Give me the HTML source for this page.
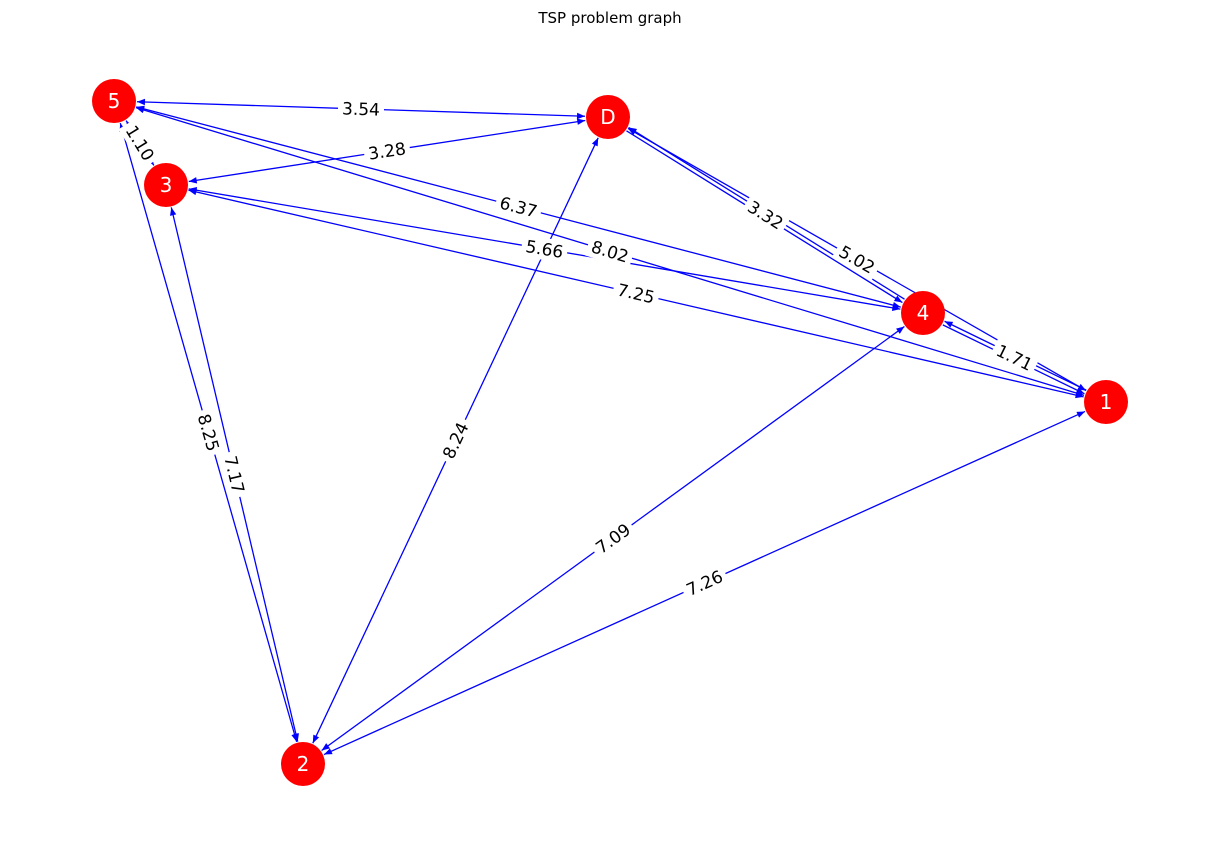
<!DOCTYPE html>
<html><head><meta charset="utf-8"><style>
html,body{margin:0;padding:0;background:#fff;}
svg{display:block;font-family:"DejaVu Sans","Liberation Sans",sans-serif;}
</style></head><body>
<svg id="g" width="1220" height="842" xmlns="http://www.w3.org/2000/svg">
<defs>
<marker id="ah" viewBox="0 0 10 10" refX="10" refY="5" markerWidth="10" markerHeight="8" markerUnits="userSpaceOnUse" orient="auto-start-reverse">
<path d="M0,1 L10,5 L0,9 z" fill="#0000ff"/></marker>
</defs>
<text x="610" y="23" font-size="15" text-anchor="middle" fill="#000">TSP problem graph</text>
<g id="edges"></g><g id="labels"></g><g id="nodes"></g>
</svg>
<script>
var N={"5":[114,101],"D":[608,117],"3":[166,185],"4":[923,313],"1":[1106,402],"2":[303,764]};
var E=[["5","D","3.54",0],["D","3","3.28",0],["5","3","1.10",0],["5","1","8.02",0],["4","5","6.37",0],["3","4","5.66",0],["1","3","7.25",0],["D","4","3.32",1],["D","1","5.02",0],["4","1","1.71",1],["5","2","8.25",0],["3","2","7.17",0],["2","D","8.24",0],["2","4","7.09",0],["2","1","7.26",0]];
var ns="http://www.w3.org/2000/svg",R=23;
var ge=document.getElementById("edges"),gl=document.getElementById("labels"),gn=document.getElementById("nodes");
function el(t,a,p){var e=document.createElementNS(ns,t);for(var k in a)e.setAttribute(k,a[k]);p.appendChild(e);return e;}
E.forEach(function(e){var a=N[e[0]],b=N[e[1]];var dx=b[0]-a[0],dy=b[1]-a[1],L=Math.hypot(dx,dy),ux=dx/L,uy=dy/L;
if(e[3]){var off=2;var px=-uy*off,py=ux*off;
[[a,b,1],[b,a,-1]].forEach(function(s){var p=s[0],q=s[1],sg=s[2];
el("line",{x1:p[0]+ux*sg*R+px*sg,y1:p[1]+uy*sg*R+py*sg,x2:q[0]-ux*sg*R+px*sg,y2:q[1]-uy*sg*R+py*sg,stroke:"#0000ff","stroke-width":1.3,"marker-end":"url(#ah)"},ge);});}
else{el("line",{x1:a[0]+ux*R,y1:a[1]+uy*R,x2:b[0]-ux*R,y2:b[1]-uy*R,stroke:"#0000ff","stroke-width":1.3,"marker-end":"url(#ah)","marker-start":"url(#ah)"},ge);}
var mx=(a[0]+b[0])/2,my=(a[1]+b[1])/2;var ang=Math.atan2(dy,dx)*180/Math.PI;if(ang>90)ang-=180;if(ang<=-90)ang+=180;
var g=el("g",{transform:"translate("+mx+","+my+") rotate("+ang+")"},gl);
el("rect",{x:-23,y:-11,width:46,height:22,fill:"#fff"},g);
var t=el("text",{x:0,y:6,"font-size":17,"text-anchor":"middle",fill:"#000"},g);t.textContent=e[2];});
for(var k in N){var p=N[k];el("circle",{cx:p[0],cy:p[1],r:22,fill:"#ff0000"},gn);
var t=el("text",{x:p[0],y:p[1]+7,"font-size":20,"text-anchor":"middle",fill:"#fff"},gn);t.textContent=k;}
</script>
</body></html>
